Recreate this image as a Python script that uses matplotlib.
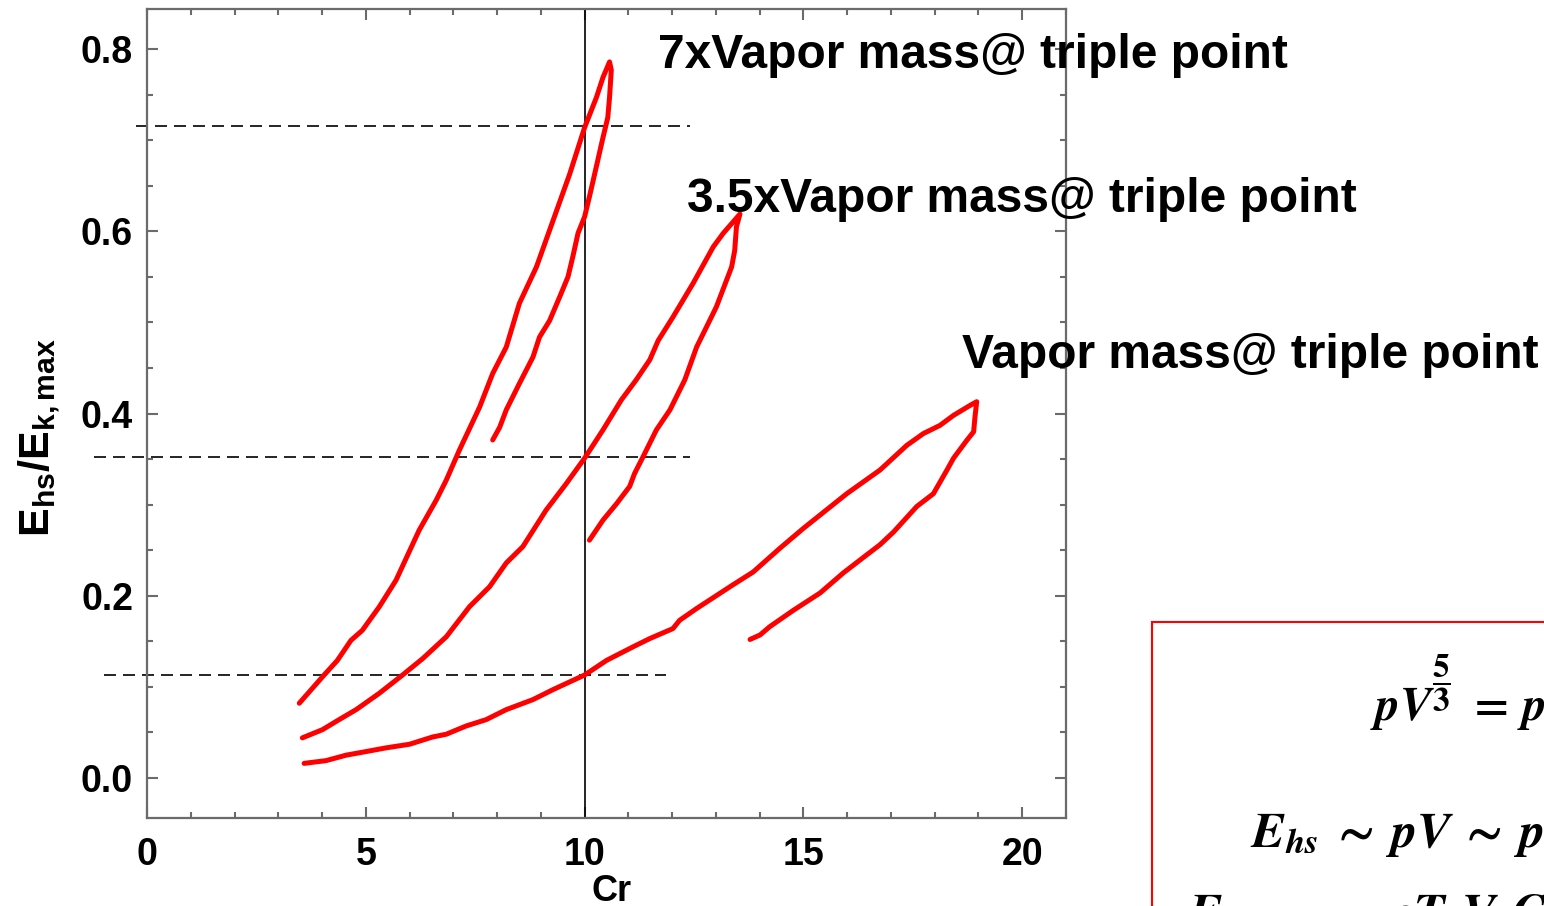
import matplotlib
matplotlib.use("Agg")
import matplotlib.pyplot as plt
from matplotlib.patches import Rectangle
from matplotlib.ticker import MultipleLocator

plt.rcParams['font.family'] = ['Liberation Sans', 'DejaVu Sans']
plt.rcParams['font.weight'] = 'bold'
plt.rcParams['mathtext.fontset'] = 'custom'
plt.rcParams['mathtext.rm'] = 'Liberation Sans:bold'
plt.rcParams['mathtext.bf'] = 'Liberation Sans:bold'
plt.rcParams['mathtext.it'] = 'Liberation Sans:bold'

# 7x vapor mass loop (up branch then back down)
cr_7x = [3.48, 4.01, 4.35, 4.66, 4.92, 5.31, 5.69, 6.22, 6.61, 6.84, 7.14, 7.60,
         7.90, 8.21, 8.51, 8.90, 9.28, 9.66, 10.0, 10.27, 10.42, 10.57,
         10.61, 10.57, 10.53, 10.42, 10.23, 10.11, 10.0, 9.85, 9.73, 9.62,
         9.43, 9.20, 8.97, 8.82, 8.51, 8.21, 8.06, 7.90]
e_7x = [0.082, 0.111, 0.129, 0.151, 0.162, 0.188, 0.217, 0.272, 0.305, 0.327, 0.360, 0.407,
        0.444, 0.473, 0.521, 0.561, 0.612, 0.663, 0.714, 0.747, 0.769, 0.786,
        0.777, 0.747, 0.725, 0.703, 0.663, 0.638, 0.616, 0.598, 0.572, 0.550,
        0.528, 0.502, 0.484, 0.462, 0.433, 0.404, 0.385, 0.371]

# 3.5x vapor mass loop
cr_35x = [3.55, 4.01, 4.39, 4.78, 5.31, 5.84, 6.30, 6.84, 7.37, 7.83, 8.21, 8.59,
          9.12, 9.58, 10.0, 10.42, 10.84, 11.18, 11.49, 11.68, 12.02, 12.48,
          12.94, 13.17, 13.55,
          13.47, 13.43, 13.36, 13.01, 12.56, 12.29, 11.95, 11.64, 11.33, 11.14,
          11.03, 10.73, 10.42, 10.11]
e_35x = [0.044, 0.053, 0.064, 0.075, 0.093, 0.113, 0.131, 0.155, 0.188, 0.210, 0.236, 0.254,
         0.294, 0.323, 0.351, 0.382, 0.415, 0.437, 0.459, 0.480, 0.506, 0.543,
         0.583, 0.598, 0.619,
         0.605, 0.579, 0.561, 0.517, 0.473, 0.437, 0.404, 0.382, 0.352, 0.334,
         0.320, 0.301, 0.283, 0.261]

# 1x vapor mass loop
cr_1x = [3.59, 4.09, 4.55, 5.01, 5.46, 6.00, 6.53, 6.84, 7.29, 7.75, 8.21, 8.82,
         9.28, 10.0, 10.50, 11.11, 11.49, 12.02, 12.17, 12.56, 13.39, 13.85,
         14.46, 15.00, 15.99, 16.75, 17.36, 17.74, 18.12, 18.43, 18.81, 18.96,
         18.92, 18.89, 18.74, 18.43, 18.28, 17.97, 17.59, 17.06, 16.75, 16.45,
         15.91, 15.38, 14.77, 14.23, 14.01, 13.78]
e_1x = [0.016, 0.019, 0.025, 0.029, 0.033, 0.037, 0.045, 0.048, 0.057, 0.064, 0.075, 0.086,
        0.097, 0.113, 0.129, 0.144, 0.153, 0.164, 0.173, 0.186, 0.212, 0.226,
        0.252, 0.274, 0.312, 0.338, 0.365, 0.378, 0.387, 0.398, 0.409, 0.413,
        0.396, 0.380, 0.371, 0.351, 0.338, 0.312, 0.298, 0.270, 0.256, 0.245,
        0.225, 0.203, 0.184, 0.166, 0.157, 0.152]

# reference levels where each loop crosses Cr = 10
ref_levels = [0.716, 0.352, 0.113]
ref_start = [-0.25, -1.21, -0.98]
ref_end = [12.40, 12.40, 11.85]

labels = ["7xVapor mass@ triple point", "3.5xVapor mass@ triple point",
          "Vapor mass@ triple point"]
label_pos = [(11.67, 0.779), (12.33, 0.621), (18.63, 0.450)]

fig = plt.figure(figsize=(15.44, 9.06), dpi=100)
ax = fig.add_axes([0.0952, 0.0971, 0.5952, 0.8929])

for xs, ys in [(cr_7x, e_7x), (cr_35x, e_35x), (cr_1x, e_1x)]:
    ax.plot(xs, ys, color='#ff0000', lw=3.6, solid_joinstyle='round',
            solid_capstyle='round', zorder=3)

for lev, x0, x1 in zip(ref_levels, ref_start, ref_end):
    ax.plot([x0, x1], [lev, lev], color='black', lw=1.2,
            linestyle=(0, (7.2, 4.2)), clip_on=False, zorder=2)

ax.axvline(10, color='black', lw=1.2, zorder=2)

for txt, (tx, ty) in zip(labels, label_pos):
    ax.text(tx, ty, txt, fontsize=34.5, fontweight='bold', va='baseline',
            ha='left', clip_on=False, zorder=4)

ax.set_xlim(0, 21)
ax.set_ylim(-0.044, 0.844)
ax.xaxis.set_major_locator(MultipleLocator(5))
ax.xaxis.set_minor_locator(MultipleLocator(1))
ax.yaxis.set_major_locator(MultipleLocator(0.2))
ax.yaxis.set_minor_locator(MultipleLocator(0.05))
ax.set_yticks([0.0, 0.2, 0.4, 0.6, 0.8])
ax.set_yticklabels(['0.0', '0.2', '0.4', '0.6', '0.8'])

ax.tick_params(which='both', direction='in', top=True, right=True,
               color='#6b6b6b', width=1.5, labelsize=27)
ax.tick_params(which='major', length=8)
ax.tick_params(which='minor', length=4.5)
ax.tick_params(axis='x', pad=14)
ax.tick_params(axis='y', pad=10)
for s in ax.spines.values():
    s.set_color('#6b6b6b')
    s.set_linewidth(1.6)

ax.set_xlabel('Cr', fontsize=26, fontweight='bold', labelpad=0)
ax.xaxis.set_label_coords(0.505, -0.069)
ax.set_ylabel(r'$\mathbf{E_{hs}/E_{k,max}}$', fontsize=31)
ax.yaxis.set_label_coords(-0.092, 0.47)

# equation box, partly outside the figure
W, H = 1544.0, 906.0
fig.patches.append(Rectangle((1152 / W, -0.2), 0.4, 0.2 + 1 - 622 / H,
                             transform=fig.transFigure, fill=False,
                             edgecolor='#ff0000', lw=1.5))
eq = dict(math_fontfamily='stix', va='baseline', ha='left')
fig.text(1370 / W, 1 - 720 / H, r'$\mathbfit{pV}$', fontsize=34, **eq)
fig.text(1441 / W, 1 - 683 / H, r'$\dfrac{\mathbf{5}}{\mathbf{3}}$',
         fontsize=24, math_fontfamily='stix', va='center', ha='center')
fig.text(1466 / W, 1 - 720 / H,
         r'$=\,\mathbfit{p}_{\mathbf{0}}\mathbfit{V}_{\mathbf{0}}$', fontsize=34, **eq)
fig.text(1250 / W, 1 - 847 / H,
         r'$\mathbfit{E}_{\mathbfit{hs}}\:\sim\:\mathbfit{pV}\:\sim\:\mathbfit{p}_{\mathbf{0}}\mathbfit{V}_{\mathbf{0}}$',
         fontsize=36, **eq)
fig.text(1187 / W, 1 - 929 / H,
         r'$\mathbfit{E}_{\mathbfit{k,max}}\:\sim\:\mathbfit{\rho T}_{\mathbfit{s}}\mathbfit{V}_{\mathbfit{s}}\mathbfit{Cr}^{\mathbf{2}}$',
         fontsize=36, **eq)

fig.savefig('out.png', dpi=100)
